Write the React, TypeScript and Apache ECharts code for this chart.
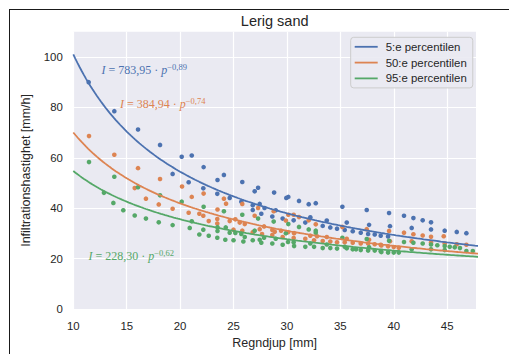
import React, { useEffect, useRef } from "react";
import * as echarts from "echarts";

// ---- data ----
const seriesNames = ["5:e percentilen", "50:e percentilen", "95:e percentilen"];
const seriesColors = ["#4C72B0", "#DD8452", "#55A868"];
// fitted power laws I = a * p^b (given in the chart)
const fitA = [783.95, 384.94, 228.3];
const fitB = [-0.89, -0.74, -0.62];
const fitLabels = ["783,95", "384,94", "228,30"];
const fitExpLabels = ["\u22120,89", "\u22120,74", "\u22120,62"];

const xTicks = [10, 15, 20, 25, 30, 35, 40, 45];
const yTicks = [0, 20, 40, 60, 80, 100];

const points5: number[][] = [
  [11.44, 90.0], [13.84, 78.5], [16.06, 71.2], [18.12, 65.1], [19.3, 53.6], [20.15, 60.4],
  [21.09, 60.9], [22.2, 56.3], [20.8, 50.3], [22.17, 47.9], [23.5, 51.2], [24.1, 53.2],
  [23.48, 45.7], [24.64, 44.1], [25.82, 50.4], [25.73, 42.6], [26.98, 46.7], [27.3, 48.1],
  [28.8, 46.2], [26.8, 41.2], [27.45, 41.7], [26.8, 39.3], [27.6, 37.8], [27.9, 40.1],
  [28.63, 36.7], [28.95, 39.2], [29.6, 35.9], [29.94, 44.1], [30.13, 44.5], [31.13, 42.9],
  [32.04, 41.6], [32.7, 42.0], [35.19, 40.6], [37.47, 39.3], [30.63, 35.2], [31.72, 34.3],
  [32.19, 36.4], [33.35, 33.0], [33.73, 35.1], [34.06, 32.4], [34.69, 31.9], [35.41, 31.4],
  [35.6, 34.3], [36.16, 30.9], [36.91, 30.3], [37.69, 33.4], [37.6, 29.8], [38.22, 29.6],
  [38.78, 29.1], [39.56, 38.1], [40.96, 37.0], [41.84, 36.1], [42.71, 35.2], [43.49, 34.4],
  [39.65, 32.9], [41.68, 32.2], [43.49, 31.6], [44.77, 31.1], [45.9, 30.6], [46.8, 30.1],
  [39.47, 28.8],
];
const points50: number[][] = [
  [11.47, 68.6], [13.84, 61.2], [16.06, 55.9], [18.12, 51.6], [15.75, 48.0], [16.8, 43.8],
  [18.0, 41.5], [19.3, 39.8], [20.18, 48.6], [21.09, 44.5], [22.2, 45.8], [20.8, 38.2],
  [21.8, 37.8], [22.17, 37.0], [22.68, 34.9], [23.5, 39.5], [24.1, 43.8], [24.3, 41.8],
  [23.48, 35.7], [23.48, 33.9], [24.64, 34.9], [25.17, 35.6], [25.58, 34.3], [25.82, 41.7],
  [26.05, 33.7], [25.0, 31.5], [25.82, 31.1], [26.8, 30.5], [26.98, 37.0], [27.3, 40.1],
  [27.45, 31.7], [27.67, 29.8], [27.86, 32.8], [28.63, 31.4], [28.76, 38.8], [28.86, 30.7],
  [28.63, 29.4], [30.13, 37.4], [30.63, 37.4], [31.13, 36.5], [29.9, 35.1], [29.45, 31.1],
  [30.1, 30.5], [29.6, 28.6], [30.67, 30.1], [30.63, 28.2], [31.72, 27.9], [32.04, 35.2],
  [32.19, 29.1], [32.54, 27.3], [32.7, 33.6], [32.82, 28.9], [33.35, 27.0], [33.73, 28.6],
  [34.06, 26.8], [34.69, 26.5], [35.19, 32.6], [35.41, 26.5], [35.6, 27.9], [36.16, 26.3],
  [36.91, 26.0], [37.47, 31.7], [37.69, 27.5], [37.6, 26.0], [38.22, 25.7], [38.78, 25.5],
  [39.56, 31.0], [40.96, 30.3], [41.84, 29.7], [42.71, 29.2], [43.49, 28.7], [44.68, 28.9],
  [41.68, 26.9], [43.49, 26.4], [44.77, 26.0], [45.9, 25.7], [46.8, 25.5], [38.84, 25.2],
  [39.47, 24.9], [39.65, 26.9], [40.0, 24.6], [40.47, 24.3],
];
const points95: number[][] = [
  [11.47, 58.3], [13.84, 52.5], [12.87, 46.1], [16.06, 48.3], [18.12, 45.1], [13.75, 42.1],
  [14.68, 39.2], [15.75, 37.1], [16.8, 35.9], [18.0, 34.4], [19.3, 33.3], [20.15, 42.6],
  [21.09, 34.8], [22.2, 40.6], [20.9, 32.2], [21.8, 29.6], [22.17, 31.5], [22.68, 29.1],
  [23.5, 32.5], [23.5, 31.0], [24.1, 38.8], [23.48, 28.3], [24.27, 32.4], [24.64, 30.3],
  [24.23, 27.5], [25.0, 27.3], [25.17, 30.2], [25.73, 29.8], [25.82, 37.4], [25.92, 26.8],
  [26.05, 28.6], [26.8, 27.3], [26.98, 31.1], [27.3, 35.9], [27.45, 27.5], [27.6, 26.3],
  [27.86, 28.3], [28.63, 26.0], [28.76, 34.7], [28.95, 27.9], [29.6, 25.5], [30.13, 33.7],
  [29.9, 30.1], [31.13, 32.6], [32.04, 31.6], [32.7, 31.1], [32.7, 30.3], [30.1, 26.6],
  [30.63, 26.5], [30.67, 25.0], [31.72, 24.7], [32.19, 26.0], [32.54, 24.7], [33.35, 24.2],
  [33.73, 25.6], [34.06, 24.2], [34.69, 24.0], [35.19, 28.3], [35.41, 24.7], [35.6, 24.1],
  [36.16, 23.7], [36.47, 23.7], [36.91, 23.4], [37.47, 27.8], [37.69, 24.5], [37.6, 23.2],
  [38.22, 23.2], [38.78, 22.9], [39.56, 27.1], [40.96, 26.6], [41.84, 26.3], [42.71, 26.0],
  [43.49, 25.6], [44.08, 25.3], [44.77, 25.0], [45.24, 24.7], [45.71, 24.5], [46.2, 24.2],
  [46.8, 23.0], [47.4, 23.0], [41.68, 23.7], [43.49, 23.7], [44.77, 23.4], [38.84, 22.6],
  [39.47, 22.4], [40.0, 22.4], [40.47, 22.4],
];
const allPoints = [points5, points50, points95];

const X_MIN = 10;
const X_MAX = 47.7;
const Y_MIN = 0;
const Y_MAX = 110;

function fitCurve(a: number, b: number): number[][] {
  const out: number[][] = [];
  for (let p = X_MIN; p <= X_MAX + 0.5; p += 0.2) {
    out.push([p, a * Math.pow(p, b)]);
  }
  return out;
}

const TEXT = "#262626";
const SANS = '"Liberation Sans", Arial, "DejaVu Sans", sans-serif';
const SERIF = '"Liberation Serif", "DejaVu Serif", serif';

export default function App() {
  const ref = useRef<HTMLDivElement>(null);
  useEffect(() => {
    if (!ref.current) return;
    const chart = echarts.init(ref.current, undefined, { renderer: "svg" });

    const scatterSeries = allPoints.map((pts, i) => ({
      type: "scatter",
      name: seriesNames[i] + " (data)",
      data: pts,
      symbolSize: 4.6,
      itemStyle: { color: seriesColors[i], opacity: 1 },
      z: 2,
    }));
    const lineSeries = fitA.map((a, i) => ({
      type: "line",
      name: seriesNames[i],
      data: fitCurve(a, fitB[i]),
      showSymbol: false,
      symbol: "none",
      smooth: false,
      clip: true,
      lineStyle: { color: seriesColors[i], width: 1.8 },
      itemStyle: { color: seriesColors[i] },
      z: 3,
    }));

    const annPos = [
      [101.5, 70],
      [120, 104],
      [88.5, 256],
    ];
    const annotations = fitA.map((_, i) => ({
      type: "text",
      z: 100,
      style: {
        x: annPos[i][0],
        y: annPos[i][1],
        text: `{i|I} = ${fitLabels[i]} \u00b7 {i|p}{s|${fitExpLabels[i]}}`,
        font: `12px ${SERIF}`,
        fill: seriesColors[i],
        verticalAlign: "middle",
        lineHeight: 15,
        rich: {
          i: { fontStyle: "italic", fontSize: 12, fontFamily: SERIF, lineHeight: 15, fill: seriesColors[i] },
          s: { fontSize: 8.5, fontFamily: SERIF, lineHeight: 10, verticalAlign: "top", fill: seriesColors[i] },
        },
      },
    }));

    const option: any = {
      animation: false,
      backgroundColor: "#ffffff",
      grid: {
        left: 73.3,
        top: 31.7,
        right: 33,
        bottom: 36.5,
        show: true,
        backgroundColor: "#EAEAF2",
        borderWidth: 0,
        containLabel: false,
      },
      legend: {
        data: seriesNames,
        orient: "vertical",
        left: 350.7,
        top: 37.3,
        icon: "rect",
        itemWidth: 23,
        itemHeight: 1.8,
        itemGap: 2.8,
        padding: [3, 6, 3, 4],
        backgroundColor: "rgba(234,234,242,0.9)",
        borderColor: "#CCCCCC",
        borderWidth: 1,
        borderRadius: 3,
        textStyle: {
          color: TEXT,
          fontSize: 11.4,
          fontFamily: SANS,
          lineHeight: 13,
          padding: [0, 0, 0, 3],
        },
      },
      xAxis: {
        type: "value",
        min: X_MIN,
        max: X_MAX,
        interval: 5,
        name: "Regndjup [mm]",
        nameLocation: "middle",
        nameGap: 23,
        nameTextStyle: { color: TEXT, fontSize: 12.5, fontFamily: SANS },
        axisLine: { show: false },
        axisTick: { show: false },
        axisLabel: {
          color: TEXT,
          fontSize: 11.4,
          fontFamily: SANS,
          margin: 11,
          showMaxLabel: false,
          formatter: (v: number) => (xTicks.indexOf(v) >= 0 ? String(v) : ""),
        },
        splitLine: { show: true, showMaxLine: false, lineStyle: { color: "#ffffff", width: 1.2 } },
      },
      yAxis: {
        type: "value",
        min: Y_MIN,
        max: Y_MAX,
        interval: 20,
        name: "Infiltrationshastighet [mm/h]",
        nameLocation: "middle",
        nameGap: 32,
        nameTextStyle: { color: TEXT, fontSize: 12.5, fontFamily: SANS },
        axisLine: { show: false },
        axisTick: { show: false },
        axisLabel: {
          color: TEXT,
          fontSize: 11.4,
          fontFamily: SANS,
          margin: 10.5,
          showMaxLabel: false,
          formatter: (v: number) => (yTicks.indexOf(v) >= 0 ? String(v) : ""),
        },
        splitLine: { show: true, showMaxLine: false, lineStyle: { color: "#ffffff", width: 1.2 } },
      },
      graphic: [
        {
          type: "line",
          shape: { x1: 9, y1: 9.5, x2: 509, y2: 9.5 },
          style: { stroke: "#1a1a1a", lineWidth: 1 },
          z: 100,
        },
        {
          type: "line",
          shape: { x1: 9.5, y1: 9, x2: 9.5, y2: 354 },
          style: { stroke: "#1a1a1a", lineWidth: 1 },
          z: 100,
        },
        {
          type: "text",
          z: 100,
          style: {
            x: 274.7,
            y: 20.5,
            text: "Lerig sand",
            align: "center",
            verticalAlign: "middle",
            font: `14.5px ${SANS}`,
            fill: TEXT,
          },
        },
        ...annotations,
      ],
      series: [...scatterSeries, ...lineSeries],
    };
    chart.setOption(option);
    return () => chart.dispose();
  }, []);
  return (
    <div
      ref={ref}
      style={{ position: "absolute", left: 0, top: 0, width: 509, height: 354 }}
    />
  );
}
